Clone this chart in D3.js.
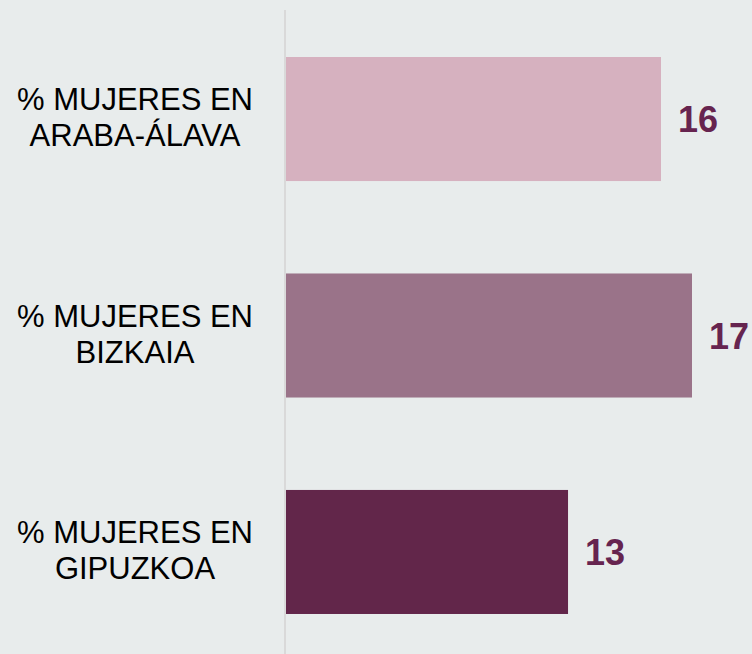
<!DOCTYPE html>
<html>
<meta charset="utf-8">
<style>
body { margin: 0; background: #e8ecec; }
text { font-family: "Liberation Sans", Arial, sans-serif; }
</style>
<script src="https://d3js.org/d3.v7.min.js"></script>
<body>
<div id="my_dataviz"></div>
<script>
// data
var categories = ["% MUJERES EN|ARABA-ÁLAVA", "% MUJERES EN|BIZKAIA", "% MUJERES EN|GIPUZKOA"];
var values = [16, 17, 13];
var colors = ["#d6b1bf", "#9a7389", "#62264a"];

var width = 752, height = 654;

var svg = d3.select("#my_dataviz")
  .append("svg")
    .attr("width", width)
    .attr("height", height);

// x scale: axis does not start at zero
var x = d3.scaleLinear()
  .domain([3.9, 17])
  .range([286, 692]);

var y = d3.scaleBand()
  .domain(categories)
  .range([10.8, 660.2])
  .paddingInner(0.427)
  .paddingOuter(0.2135);

// bars
svg.selectAll("rect")
  .data(values)
  .enter()
  .append("rect")
    .attr("x", x(3.9))
    .attr("y", function(d, i){ return y(categories[i]); })
    .attr("width", function(d){ return x(d) - x(3.9); })
    .attr("height", y.bandwidth())
    .attr("fill", function(d, i){ return colors[i]; });

// vertical axis line
svg.append("line")
  .attr("x1", 285).attr("x2", 285)
  .attr("y1", 10).attr("y2", height)
  .attr("stroke", "#d9d9d9")
  .attr("stroke-width", 2);

// value labels
svg.selectAll(".val")
  .data(values)
  .enter()
  .append("text")
    .attr("class", "val")
    .attr("x", function(d){ return x(d) + 17; })
    .attr("y", function(d, i){ return y(categories[i]) + y.bandwidth() / 2 + 13; })
    .attr("font-size", "36px")
    .attr("font-weight", "bold")
    .attr("fill", "#66244f")
    .text(function(d){ return d; });

// category labels (two lines each)
var cat = svg.selectAll(".cat")
  .data(categories)
  .enter()
  .append("text")
    .attr("class", "cat")
    .attr("text-anchor", "middle")
    .attr("font-size", "31px")
    .attr("fill", "#000");

cat.each(function(d){
  var c = y(d) + y.bandwidth() / 2;
  var lines = d.split("|");
  d3.select(this).selectAll("tspan")
    .data(lines)
    .enter()
    .append("tspan")
      .attr("x", 135)
      .attr("y", function(l, j){ return c - 9 + j * 36; })
      .text(function(l){ return l; });
});
</script>
</body>
</html>
